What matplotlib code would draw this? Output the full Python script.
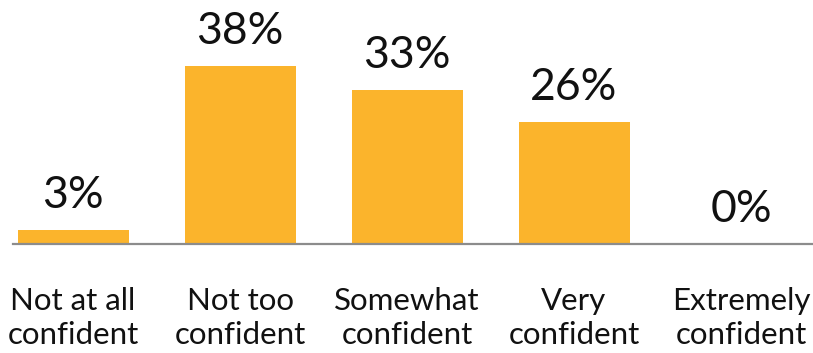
import matplotlib.pyplot as plt

# survey responses: how confident are you?
categories = ["Not at all\nconfident", "Not too\nconfident", "Somewhat\nconfident",
              "Very\nconfident", "Extremely\nconfident"]
shares = [3, 38, 33, 26, 0]

BAR_COLOR = "#FBB42C"

fig = plt.figure(figsize=(8.13, 3.53), dpi=100)
ax = fig.add_axes([0, 109 / 353, 1, 1 - 109 / 353])

x = list(range(len(categories)))
ax.bar(x, shares, width=111 / 167, color=BAR_COLOR)

ax.set_xlim(-73 / 167, (813 - 73) / 167)
ax.set_ylim(0, 244 / 4.68)

# baseline under the bars
ax.axhline(0, xmin=13 / 813, xmax=1, color="#8c8c8c", linewidth=1.6, clip_on=False)

for xi, v in zip(x, shares):
    ax.annotate(f"{v}%", (xi, v), xytext=(0, 10), textcoords="offset points",
                ha="center", va="bottom", fontsize=32, family="Lato",
                color="#111111")

ax.set_xticks(x)
ax.set_xticklabels(categories, fontsize=22.5, family="Lato", color="#111111",
                   linespacing=1.25)
ax.tick_params(axis="x", length=0, pad=31)
ax.set_yticks([])
for s in ax.spines.values():
    s.set_visible(False)

fig.savefig("out.png", dpi=100)
